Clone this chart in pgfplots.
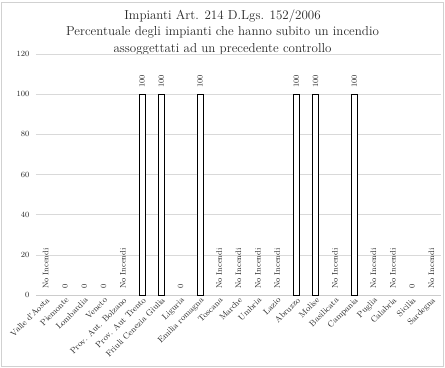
\documentclass[border=0pt]{standalone}
\usepackage{pgfplots}
\pgfplotsset{compat=1.18}
\begin{document}
\begin{tikzpicture}
\useasboundingbox (0,0) rectangle (445bp,368bp);
\draw[black!18] (1bp,2bp) rectangle (443bp,366bp);
\node[align=center, font=\fontsize{13bp}{16.5bp}\selectfont, text=black!85] at (222.5bp,336bp)
  {Impianti Art. 214 D.Lgs. 152/2006\\Percentuale degli impianti che hanno subito un incendio\\assoggettati ad un precedente controllo};
\begin{axis}[
  at={(36bp,73bp)}, anchor=south west,
  scale only axis, width=405bp, height=241bp,
  xmin=-0.5, xmax=20.5, ymin=0, ymax=120,
  ytick={0,20,40,60,80,100,120},
  xtick={0,...,20},
  xticklabels={Valle d'Aosta,Piemonte,Lombardia,Veneto,Prov. Aut. Bolzano,Prov. Aut Trento,Friuli Cenezia Giulia,Liguria,Emilia romagna,Toscana,Marche,Umbria,Lazio,Abruzzo,Molise,Basilicata,Campania,Puglia,Calabria,Sicilia,Sardegna},
  x tick label style={rotate=45, anchor=north east, font=\fontsize{8.5bp}{10bp}\selectfont, text=black!85, inner sep=1bp},
  y tick label style={font=\fontsize{8bp}{9bp}\selectfont, text=black!85, xshift=-3bp},
  /pgf/number format/assume math mode=true,
  major tick length=0pt,
  ymajorgrids, grid style={black!15, line width=0.6pt},
  axis x line*=bottom, axis y line*=left,
  x axis line style={black!20, line width=0.6pt},
  y axis line style={draw=none},
  ybar, bar shift=0pt, bar width=6bp,
  point meta=explicit symbolic,
  nodes near coords,
  every node near coord/.append style={rotate=90, anchor=west, font=\fontsize{8bp}{9bp}\selectfont, text=black!85, inner ysep=0pt, inner xsep=6bp},
  clip=false,
]
\addplot[draw=black, fill=white, line width=0.8pt] coordinates {
  (5,100) [100]
  (6,100) [100]
  (8,100) [100]
  (13,100) [100]
  (14,100) [100]
  (16,100) [100]
};
\addplot[draw=none, fill=none] coordinates {
  (0,0) [No Incendi]
  (1,0) [0]
  (2,0) [0]
  (3,0) [0]
  (4,0) [No Incendi]
  (7,0) [0]
  (9,0) [No Incendi]
  (10,0) [No Incendi]
  (11,0) [No Incendi]
  (12,0) [No Incendi]
  (15,0) [No Incendi]
  (17,0) [No Incendi]
  (18,0) [No Incendi]
  (19,0) [0]
  (20,0) [No Incendi]
};
\end{axis}
\end{tikzpicture}
\end{document}
